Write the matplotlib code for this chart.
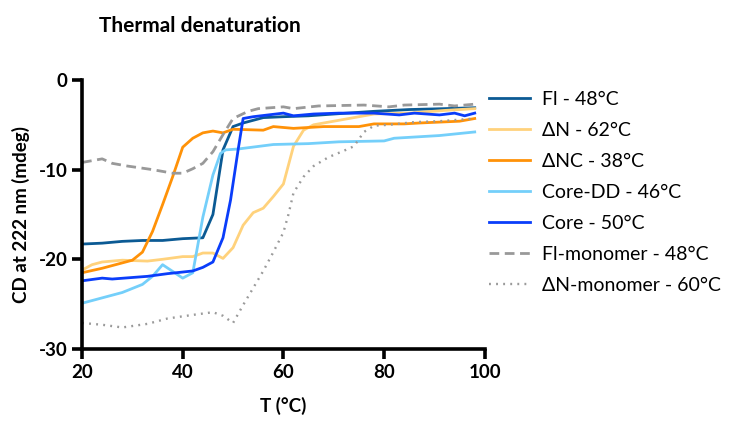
import numpy as np
import matplotlib.pyplot as plt

plt.rcParams['font.family'] = ['Lato', 'DejaVu Sans']
plt.rcParams['axes.unicode_minus'] = False

# --- data (T in degC, CD in mdeg) ---
t_fl = [20, 24, 28, 32, 36, 40, 44, 46, 48, 50, 52, 56, 60, 65, 70, 78, 85, 92, 98]
cd_fl = [-18.3, -18.2, -18.0, -17.9, -17.9, -17.7, -17.6, -15.0, -7.8, -5.2, -4.8, -4.2, -4.1, -4.0, -3.8, -3.5, -3.3, -3.2, -3.1]

t_dn = [20, 22, 24, 28, 33, 36, 40, 42, 44, 46, 48, 50, 52, 54, 56, 58, 60, 62, 64, 66, 68, 71, 75, 78, 85, 92, 98]
cd_dn = [-21.2, -20.6, -20.3, -20.1, -20.2, -20.0, -19.7, -19.7, -19.3, -19.3, -19.9, -18.7, -16.2, -14.8, -14.3, -13.0, -11.6,
         -7.4, -5.6, -5.0, -4.8, -4.5, -4.1, -3.8, -3.7, -3.4, -3.2]

t_dnc = [20, 24, 30, 32, 34, 36, 38, 40, 42, 44, 46, 48, 50, 56, 58, 62, 68, 75, 78, 84, 87, 95, 98]
cd_dnc = [-21.5, -21.0, -20.1, -19.2, -16.9, -13.9, -10.8, -7.5, -6.5, -5.9, -5.7, -5.9, -5.5, -5.6, -5.2, -5.4, -5.2, -5.2,
          -4.9, -4.9, -4.8, -4.6, -4.3]

t_cdd = [20, 24, 28, 32, 34, 36, 40, 42, 44, 46, 47.5, 48.5, 51, 58, 65, 71, 80, 82, 91, 98]
cd_cdd = [-24.9, -24.3, -23.7, -22.8, -21.9, -20.6, -22.1, -21.5, -15.3, -10.6, -8.2, -7.8, -7.7, -7.2, -7.1, -6.9, -6.8,
          -6.5, -6.2, -5.8]

t_core = [20, 24, 26, 33, 37, 42, 44, 46, 48, 49.5, 51, 52, 54, 60, 62, 66, 71, 78, 83, 86, 91, 94, 96, 98]
cd_core = [-22.4, -22.1, -22.2, -21.9, -21.6, -21.3, -20.9, -20.3, -17.6, -13.4, -7.8, -4.3, -4.1, -3.7, -4.0, -3.8, -3.7,
           -3.7, -3.9, -3.7, -3.9, -3.7, -4.0, -3.7]

t_flm = [20, 24, 26, 29, 34, 38, 40, 42, 44, 46, 48, 50, 53, 55, 60, 62, 67, 76, 81, 84, 91, 94, 98]
cd_flm = [-9.2, -8.8, -9.3, -9.6, -10.0, -10.4, -10.4, -9.9, -9.3, -8.0, -6.1, -4.3, -3.5, -3.2, -3.0, -3.2, -2.9, -2.8,
          -3.0, -2.8, -2.7, -2.9, -2.7]

t_dnm = [20, 24, 28, 33, 37, 42, 46, 48, 50, 52, 54, 56, 58, 60, 61, 62, 64, 66, 69, 72, 74, 76, 78, 81, 86, 91, 98]
cd_dnm = [-27.1, -27.3, -27.6, -27.2, -26.6, -26.2, -25.9, -26.3, -27.1, -25.1, -23.2, -21.3, -19.2, -17.0, -15.0, -12.6,
          -10.8, -9.6, -8.6, -7.9, -7.4, -5.8, -5.1, -5.0, -4.7, -4.6, -4.3]

labels = ['Fl - 48°C', 'ΔN - 62°C', 'ΔNC - 38°C', 'Core-DD - 46°C', 'Core - 50°C',
          'Fl-monomer - 48°C', 'ΔN-monomer - 60°C']

fig = plt.figure(figsize=(7.39, 4.23), dpi=100)
ax = fig.add_axes([0.111, 0.175, 0.545, 0.636])

lw = 2.0
ax.plot(t_fl, cd_fl, color='#0b5a94', lw=lw, label=labels[0])
ax.plot(t_dn, cd_dn, color='#ffd27c', lw=lw, label=labels[1])
ax.plot(t_dnc, cd_dnc, color='#ff9208', lw=lw, label=labels[2])
ax.plot(t_cdd, cd_cdd, color='#74cffa', lw=lw, label=labels[3])
ax.plot(t_core, cd_core, color='#0a3dfa', lw=lw, label=labels[4])
ax.plot(t_flm, cd_flm, color='#999999', lw=lw, ls=(0, (3.5, 2)), label=labels[5])
ax.plot(t_dnm, cd_dnm, color='#9a9a9a', lw=1.7, ls=(0, (0.8, 2.2)), label=labels[6])

ax.set_xlim(20, 100)
ax.set_ylim(-30, 0)
ax.set_xticks([20, 40, 60, 80, 100])
ax.set_yticks([0, -10, -20, -30])

for s in ['top', 'right']:
    ax.spines[s].set_visible(False)
for s in ['left', 'bottom']:
    ax.spines[s].set_linewidth(2.6)
ax.tick_params(width=2.6, length=7, labelsize=13.5, direction='out')
for lab in ax.get_xticklabels() + ax.get_yticklabels():
    lab.set_fontweight('bold')

ax.set_xlabel('T (°C)', fontsize=13.5, fontweight='bold', labelpad=12)
ax.set_ylabel('CD at 222 nm (mdeg)', fontsize=13.5, fontweight='bold', labelpad=6)

fig.text(200 / 739, 1 - 26 / 423, 'Thermal denaturation', fontsize=15, fontweight='bold',
         ha='center', va='center')

ax.legend(loc='upper left', bbox_to_anchor=(489 / 739, 1 - 91 / 423), bbox_transform=fig.transFigure,
          frameon=False, fontsize=14, handlelength=2.1, handletextpad=0.65, labelspacing=0.72,
          borderpad=0, borderaxespad=0)

fig.savefig('out.png', dpi=100)
